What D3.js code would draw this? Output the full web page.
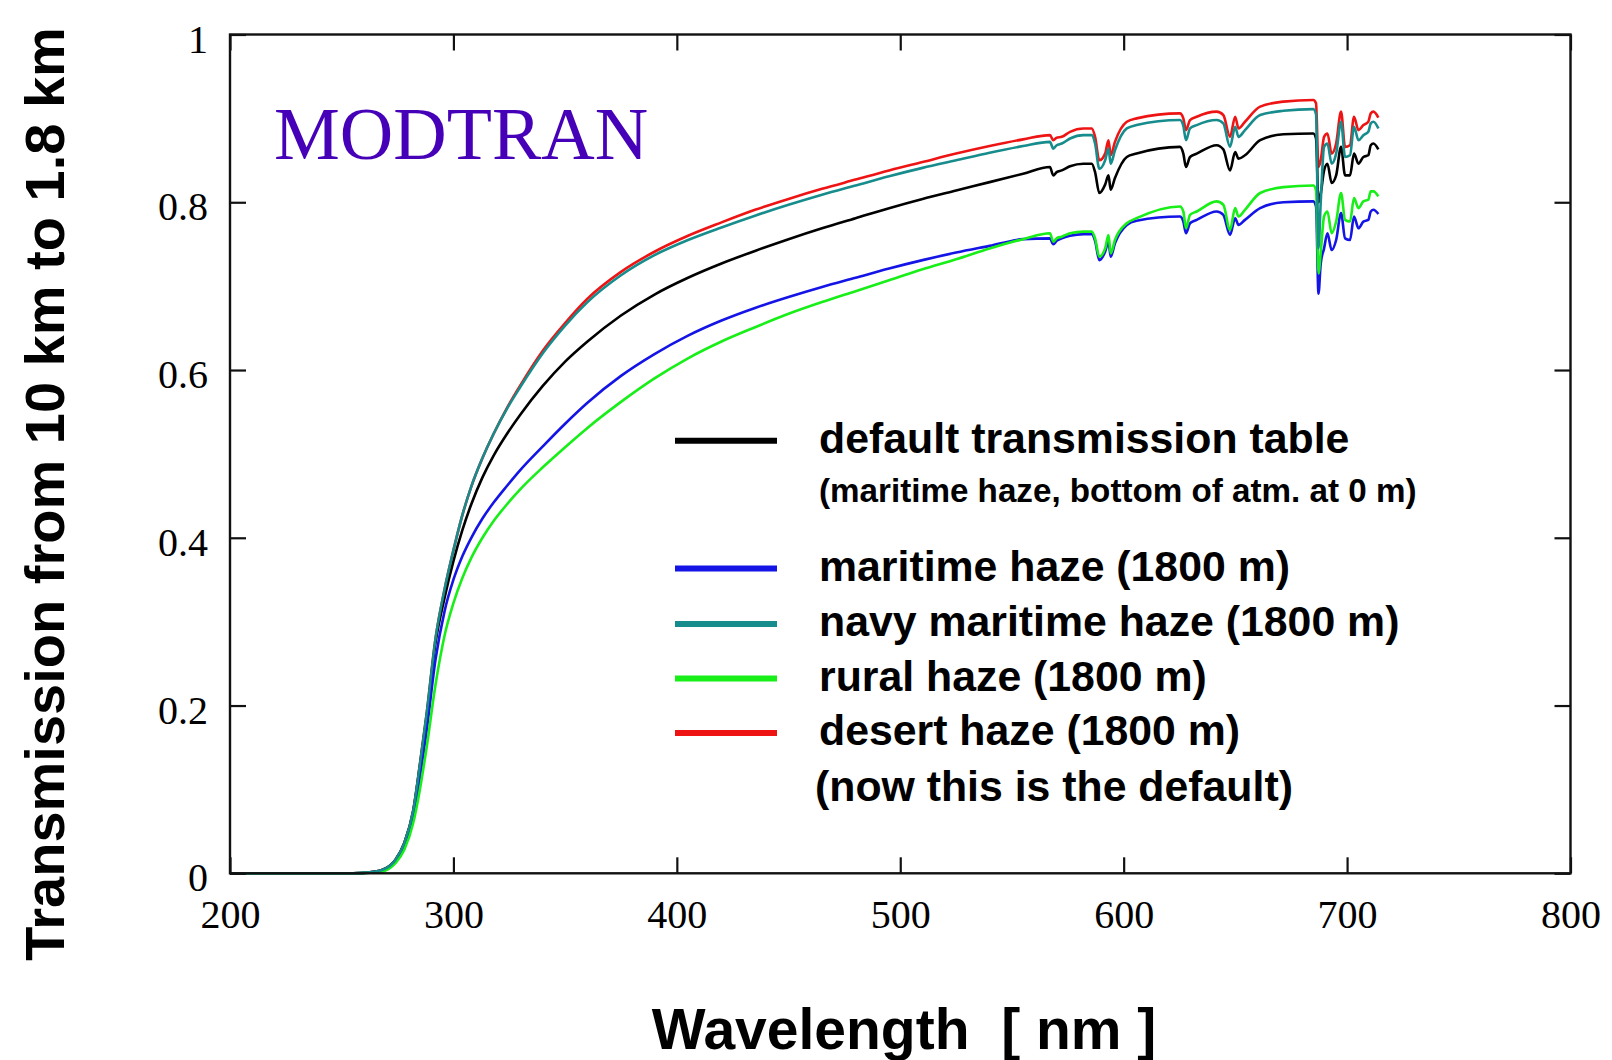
<!DOCTYPE html>
<html>
<head>
<meta charset="utf-8">
<script src="https://cdn.jsdelivr.net/npm/d3@7"></script>
<style>
  body { margin: 0; background: #fff; }
  svg { display: block; }
</style>
</head>
<body>
<div id="chart"></div>
<script>
// wavelength grid (nm) shared by all curves
const wavelengths = [200, 255, 262, 268, 274, 278, 282, 285, 288, 292, 296, 300, 304, 308, 313, 318, 324, 330, 340, 350,
  360, 375, 390, 405, 420, 435, 450, 465, 480, 495, 510, 525, 540, 555,
  567.0, 568.5, 570, 572.3, 576, 582, 585.7, 587.2, 589.1, 591.7, 593.2, 594.2, 596.1, 601.4, 605.8, 625.2,
  626.7, 627.9, 629.7, 632.7, 641.6, 644.6, 647.6, 649.9, 651.4, 654.3, 661.1, 671.5, 684.9, 686.1, 687.2, 688.2,
  689.7, 691.2, 693.1, 695.1, 697.3, 699.1, 701.3, 703.1, 705.1, 707.3, 709.5, 710.6, 711.8, 714];

const defaultTable = [0, 0, 0.001, 0.004, 0.016, 0.036, 0.074, 0.128, 0.186, 0.275, 0.328, 0.372, 0.409, 0.44, 0.472, 0.498, 0.524, 0.547, 0.581, 0.61,
  0.634, 0.665, 0.69, 0.71, 0.727, 0.742, 0.756, 0.769, 0.781, 0.793, 0.804, 0.814, 0.824, 0.834,
  0.842, 0.832, 0.836, 0.838, 0.843, 0.846, 0.846, 0.836, 0.811, 0.821, 0.832, 0.815, 0.829, 0.854, 0.858, 0.866,
  0.858, 0.842, 0.854, 0.858, 0.868, 0.863, 0.838, 0.86, 0.852, 0.856, 0.874, 0.881, 0.882, 0.876, 0.8, 0.81,
  0.838, 0.846, 0.823, 0.832, 0.866, 0.832, 0.832, 0.858, 0.846, 0.854, 0.856, 0.868, 0.87, 0.863];

const maritime = [0, 0, 0.0008, 0.003, 0.014, 0.032, 0.065, 0.115, 0.17, 0.255, 0.312, 0.35, 0.378, 0.4, 0.423, 0.442, 0.462, 0.481, 0.509, 0.536,
  0.561, 0.593, 0.619, 0.641, 0.659, 0.674, 0.687, 0.699, 0.71, 0.721, 0.731, 0.74, 0.748, 0.756,
  0.757, 0.75, 0.754, 0.757, 0.76, 0.762, 0.762, 0.754, 0.731, 0.741, 0.753, 0.735, 0.751, 0.773, 0.778, 0.783,
  0.777, 0.763, 0.775, 0.779, 0.789, 0.785, 0.761, 0.781, 0.773, 0.779, 0.793, 0.8, 0.801, 0.795, 0.691, 0.727,
  0.745, 0.763, 0.743, 0.755, 0.787, 0.757, 0.755, 0.783, 0.769, 0.777, 0.779, 0.789, 0.791, 0.786];

const navyMaritime = [0, 0, 0.001, 0.004, 0.016, 0.036, 0.075, 0.13, 0.19, 0.28, 0.338, 0.385, 0.427, 0.461, 0.495, 0.524, 0.554, 0.58, 0.62, 0.653,
  0.681, 0.713, 0.737, 0.755, 0.77, 0.784, 0.797, 0.809, 0.82, 0.831, 0.841, 0.85, 0.859, 0.867,
  0.872, 0.864, 0.868, 0.87, 0.876, 0.88, 0.88, 0.87, 0.84, 0.85, 0.864, 0.846, 0.862, 0.888, 0.892, 0.898,
  0.891, 0.874, 0.888, 0.892, 0.898, 0.894, 0.866, 0.89, 0.878, 0.886, 0.904, 0.909, 0.911, 0.905, 0.745, 0.8,
  0.866, 0.87, 0.846, 0.858, 0.896, 0.854, 0.856, 0.89, 0.874, 0.88, 0.884, 0.894, 0.896, 0.888];

const rural = [0, 0, 0.0005, 0.002, 0.012, 0.028, 0.06, 0.1, 0.15, 0.225, 0.283, 0.322, 0.352, 0.376, 0.4, 0.42, 0.44, 0.458, 0.484, 0.508,
  0.531, 0.562, 0.59, 0.614, 0.634, 0.651, 0.667, 0.681, 0.694, 0.707, 0.72, 0.732, 0.745, 0.756,
  0.763, 0.753, 0.757, 0.759, 0.763, 0.765, 0.765, 0.757, 0.735, 0.745, 0.761, 0.739, 0.755, 0.775, 0.781, 0.795,
  0.789, 0.769, 0.785, 0.789, 0.801, 0.797, 0.767, 0.793, 0.783, 0.791, 0.811, 0.818, 0.82, 0.814, 0.715, 0.74,
  0.783, 0.789, 0.763, 0.777, 0.811, 0.779, 0.777, 0.805, 0.793, 0.801, 0.803, 0.813, 0.813, 0.807];

const desert = [0, 0, 0.001, 0.004, 0.016, 0.036, 0.075, 0.13, 0.19, 0.28, 0.338, 0.385, 0.427, 0.461, 0.495, 0.524, 0.555, 0.582, 0.623, 0.656,
  0.685, 0.717, 0.741, 0.76, 0.776, 0.791, 0.804, 0.816, 0.827, 0.838, 0.848, 0.858, 0.867, 0.875,
  0.88, 0.874, 0.877, 0.878, 0.884, 0.888, 0.888, 0.878, 0.85, 0.858, 0.874, 0.856, 0.872, 0.896, 0.9, 0.906,
  0.9, 0.886, 0.898, 0.902, 0.908, 0.904, 0.878, 0.902, 0.888, 0.896, 0.914, 0.92, 0.922, 0.918, 0.842, 0.85,
  0.878, 0.882, 0.858, 0.87, 0.908, 0.866, 0.868, 0.902, 0.886, 0.892, 0.896, 0.906, 0.908, 0.901];

const xTicks = [200, 300, 400, 500, 600, 700, 800];
const yTicks = [0, 0.2, 0.4, 0.6, 0.8, 1];
const yTickLabels = ["0", "0.2", "0.4", "0.6", "0.8", "1"];

// legend order
const seriesNames = ["default transmission table", "maritime haze (1800 m)", "navy maritime haze (1800 m)",
  "rural haze (1800 m)", "desert haze (1800 m)"];
const seriesColors = ["#000000", "#1414e6", "#178c8c", "#18ee18", "#ee1414"];
const seriesValues = [defaultTable, maritime, navyMaritime, rural, desert];
// order the curves are painted in (teal ends up on top)
const drawOrder = [4, 0, 1, 3, 2];

const width = 1612, height = 1060;
const plotLeft = 230, plotRight = 1570.5, plotTop = 34.5, plotBottom = 873.3;

let svg = d3.select("#chart")
  .append("svg")
  .attr("width", width)
  .attr("height", height);

let xScale = d3.scaleLinear().domain([200, 800]).range([plotLeft, plotRight]);
let yScale = d3.scaleLinear().domain([0, 1]).range([plotBottom, plotTop]);

// curves
let line = d3.line()
  .x(d => xScale(d[0]))
  .y(d => yScale(d[1]))
  .curve(d3.curveMonotoneX);

drawOrder.forEach(i => {
  svg.append("path")
    .datum(wavelengths.map((w, j) => [w, seriesValues[i][j]]))
    .attr("d", line)
    .attr("fill", "none")
    .attr("stroke", seriesColors[i])
    .attr("stroke-width", 2.6)
    .attr("stroke-linejoin", "round");
});

// axes with inward ticks
let tickLen = 16;
let axisStyle = g => {
  g.select(".domain").remove();
  g.selectAll(".tick line").attr("stroke", "#111").attr("stroke-width", 2.2);
  g.selectAll("text")
    .attr("font-family", "'Liberation Serif', 'Times New Roman', serif")
    .attr("font-size", 40)
    .attr("fill", "#000");
};

svg.append("g")
  .attr("transform", "translate(0," + plotBottom + ")")
  .call(d3.axisBottom(xScale).tickValues(xTicks).tickSize(-tickLen).tickSizeOuter(0))
  .call(axisStyle)
  .call(g => g.selectAll("text").attr("y", 55).attr("dy", null));

svg.append("g")
  .attr("transform", "translate(0," + plotTop + ")")
  .call(d3.axisTop(xScale).tickValues(xTicks).tickSize(-tickLen).tickFormat(""))
  .call(axisStyle);

svg.append("g")
  .attr("transform", "translate(" + plotLeft + ",0)")
  .call(d3.axisLeft(yScale).tickValues(yTicks).tickSize(-tickLen).tickFormat((d, i) => yTickLabels[i]))
  .call(axisStyle)
  .call(g => g.selectAll("text").attr("x", -22).attr("dy", 17.5).attr("text-anchor", "end"));

svg.append("g")
  .attr("transform", "translate(" + plotRight + ",0)")
  .call(d3.axisRight(yScale).tickValues(yTicks).tickSize(-tickLen).tickFormat(""))
  .call(axisStyle);

// frame
svg.append("rect")
  .attr("x", plotLeft)
  .attr("y", plotTop)
  .attr("width", plotRight - plotLeft)
  .attr("height", plotBottom - plotTop)
  .attr("fill", "none")
  .attr("stroke", "#111")
  .attr("stroke-width", 2.4);

// MODTRAN label
svg.append("text")
  .text("MODTRAN")
  .attr("x", 274)
  .attr("y", 159)
  .attr("font-family", "'Liberation Serif', 'Times New Roman', serif")
  .attr("font-size", 74)
  .attr("fill", "#4600b8");

// legend
let sans = "'Liberation Sans', Arial, Helvetica, sans-serif";
let legendY = [440.7, 568.5, 624, 678.5, 733];
let legend = svg.append("g").attr("font-family", sans).attr("font-weight", "bold").attr("fill", "#000");

seriesNames.forEach((name, i) => {
  legend.append("line")
    .attr("x1", 675).attr("x2", 777)
    .attr("y1", legendY[i]).attr("y2", legendY[i])
    .attr("stroke", seriesColors[i])
    .attr("stroke-width", 6);
  legend.append("text")
    .text(name)
    .attr("x", 819)
    .attr("y", legendY[i] + 12)
    .attr("font-size", 42.8);
});

legend.append("text")
  .text("(maritime haze, bottom of atm. at 0 m)")
  .attr("x", 819)
  .attr("y", 502)
  .attr("font-size", 33.2);

legend.append("text")
  .text("(now this is the default)")
  .attr("x", 815)
  .attr("y", 801)
  .attr("font-size", 42.8);

// axis titles
svg.append("text")
  .text("Wavelength  [ nm ]")
  .attr("x", 904)
  .attr("y", 1049)
  .attr("text-anchor", "middle")
  .style("white-space", "pre")
  .attr("font-family", sans)
  .attr("font-weight", "bold")
  .attr("font-size", 57);

svg.append("text")
  .text("Transmission from 10 km to 1.8 km")
  .attr("transform", "translate(64,494) rotate(-90)")
  .attr("text-anchor", "middle")
  .attr("font-family", sans)
  .attr("font-weight", "bold")
  .attr("font-size", 56);
</script>
</body>
</html>
